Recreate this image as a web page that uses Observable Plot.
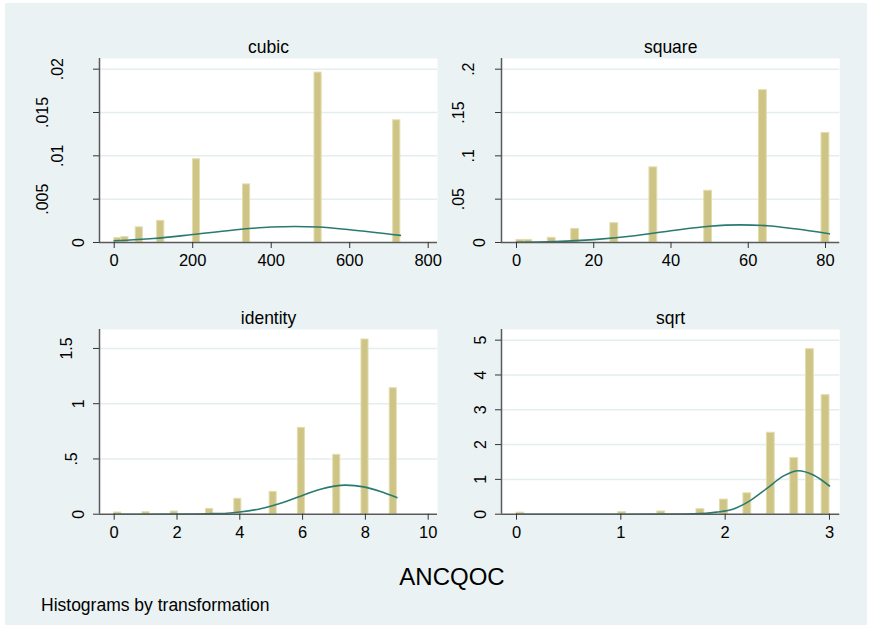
<!DOCTYPE html>
<html>
<head>
<meta charset="utf-8">
<script src="https://cdn.jsdelivr.net/npm/d3@7"></script>
<script src="https://cdn.jsdelivr.net/npm/@observablehq/plot@0.6"></script>
<style>
  body { margin: 0; background: #ffffff; font-family: "Liberation Sans", Arial, sans-serif; }
  #wrap { position: relative; width: 872px; height: 629px; overflow: hidden; background: #ffffff; }
  #bg { position: absolute; left: 5px; top: 3px; width: 862px; height: 622px; background: #eaf2f3; }
  .panel { position: absolute; }
  #xtitle { position: absolute; left: 352px; width: 200px; top: 562px; line-height: 30px; text-align: center; font-size: 24px; color: #000; }
  #note { position: absolute; left: 41px; top: 594px; line-height: 22px; font-size: 17.5px; color: #000; white-space: nowrap; }
</style>
</head>
<body>
<div id="wrap">
  <div id="bg"></div>
  <div id="xtitle">ANCQOC</div>
  <div id="note">Histograms by transformation</div>
</div>
<script>
// ---------- data ----------
const panelNames = ["cubic", "square", "identity", "sqrt"];

const cubicBinStart = [0, 18.2, 54.7, 109.4, 200.5, 328.1, 510.3, 710.8];
const cubicBinWidth = 18.2;
const cubicDensity  = [0.0005, 0.00062, 0.00175, 0.0025, 0.0096, 0.0067, 0.0196, 0.0141];
const cubicCurveX   = [0, 100, 200, 300, 400, 460, 520, 600, 729];
const cubicCurveY   = [0.0002, 0.00046, 0.00092, 0.00142, 0.00178, 0.00185, 0.00178, 0.00148, 0.00082];
const cubicXTicks   = [0, 200, 400, 600, 800];
const cubicYTicks   = [0, 0.005, 0.01, 0.015, 0.02];

const squareBinStart = [0, 2.025, 8.1, 14.175, 24.3, 34.425, 48.6, 62.775, 78.975];
const squareBinWidth = 2.025;
const squareDensity  = [0.003, 0.003, 0.0054, 0.0157, 0.0223, 0.0867, 0.0597, 0.1758, 0.1264];
const squareCurveX   = [0, 10, 20, 30, 40, 50, 58, 65, 72, 81];
const squareCurveY   = [0.0003, 0.0011, 0.0033, 0.0075, 0.0135, 0.0188, 0.0203, 0.0194, 0.0158, 0.0100];
const squareXTicks   = [0, 20, 40, 60, 80];
const squareYTicks   = [0, 0.05, 0.1, 0.15, 0.2];

const identityBinStart = [0, 0.9, 1.8, 2.925, 3.825, 4.95, 5.85, 6.975, 7.875, 8.775];
const identityBinWidth = 0.225;
const identityDensity  = [0.015, 0.018, 0.024, 0.048, 0.139, 0.202, 0.781, 0.537, 1.581, 1.14];
const identityCurveX   = [0, 1, 2, 3, 3.6, 4, 4.66, 5.3, 5.93, 6.57, 7.37, 7.95, 8.48, 9];
const identityCurveY   = [0, 0.0001, 0.0005, 0.004, 0.009, 0.02, 0.05, 0.1, 0.163, 0.226, 0.263, 0.247, 0.205, 0.15];
const identityXTicks   = [0, 2, 4, 6, 8, 10];
const identityYTicks   = [0, 0.5, 1, 1.5];

const sqrtBinStart = [0, 0.975, 1.35, 1.725, 1.95, 2.175, 2.4, 2.625, 2.775, 2.925];
const sqrtBinWidth = 0.075;
const sqrtDensity  = [0.045, 0.057, 0.077, 0.144, 0.42, 0.60, 2.34, 1.61, 4.74, 3.42];
const sqrtCurveX   = [0, 1, 1.5, 1.7, 1.92, 2.08, 2.24, 2.40, 2.56, 2.70, 2.85, 3.0];
const sqrtCurveY   = [0, 0.0001, 0.0013, 0.009, 0.06, 0.15, 0.39, 0.74, 1.10, 1.25, 1.12, 0.81];
const sqrtXTicks   = [0, 1, 2, 3];
const sqrtYTicks   = [0, 1, 2, 3, 4, 5];

// ---------- layout / style ----------
const layout = {
  cubic:    { left: 99,  right: 437,   top: 58,    bottom: 242, xDomain: [-37.5, 823.7],    yDomain: [0, 0.02123], yLabelDx: [-16, -52, -37, -52, -37], titleDy: -11.5 },
  square:   { left: 501, right: 839.3, top: 58,    bottom: 242, xDomain: [-3.88, 83.7],     yDomain: [0, 0.21235], yLabelDx: [-17, -38, -28, -38, -28], titleDy: -11.5 },
  identity: { left: 99,  right: 437,   top: 329.3, bottom: 514, xDomain: [-0.468, 10.296],  yDomain: [0, 1.6715],  yLabelDx: [-16, -23, -16, -28], titleDy: -11 },
  sqrt:     { left: 501, right: 839.3, top: 329.3, bottom: 514, xDomain: [-0.1438, 3.0988], yDomain: [0, 5.307],   yLabelDx: [-16, -16, -16, -16, -16, -16], titleDy: -11 }
};

const series = {
  cubic:    { binStart: cubicBinStart, binWidth: cubicBinWidth, density: cubicDensity, curveX: cubicCurveX, curveY: cubicCurveY, xTicks: cubicXTicks, yTicks: cubicYTicks },
  square:   { binStart: squareBinStart, binWidth: squareBinWidth, density: squareDensity, curveX: squareCurveX, curveY: squareCurveY, xTicks: squareXTicks, yTicks: squareYTicks },
  identity: { binStart: identityBinStart, binWidth: identityBinWidth, density: identityDensity, curveX: identityCurveX, curveY: identityCurveY, xTicks: identityXTicks, yTicks: identityYTicks },
  sqrt:     { binStart: sqrtBinStart, binWidth: sqrtBinWidth, density: sqrtDensity, curveX: sqrtCurveX, curveY: sqrtCurveY, xTicks: sqrtXTicks, yTicks: sqrtYTicks }
};

const fmt = d => d === 0 ? "0" : String(d).replace(/^0\./, ".");
const FONT = "'Liberation Sans', Arial, sans-serif";

function makePanel(name) {
  const s = series[name], L = layout[name];
  const bars = s.binStart.map((x0, i) => ({ x1: x0, x2: x0 + s.binWidth, y1: 0, y2: s.density[i] }));
  const curve = s.curveX.map((x, i) => ({ x, y: s.curveY[i] }));
  const ml = 75, mr = 25, mt = 30, mb = 40;
  const w = L.right - L.left, h = L.bottom - L.top;
  const chart = Plot.plot({
    width: w + ml + mr, height: h + mt + mb,
    marginLeft: ml, marginRight: mr, marginTop: mt, marginBottom: mb,
    style: { background: "transparent", fontFamily: FONT, overflow: "visible" },
    x: { domain: L.xDomain, axis: null },
    y: { domain: L.yDomain, axis: null },
    marks: [
      Plot.frame({ fill: "white", stroke: "none" }),
      Plot.ruleY(s.yTicks.filter(t => t > 0), { stroke: "#e4eef0", strokeWidth: 1.5 }),
      Plot.rect(bars, { x1: "x1", x2: "x2", y1: "y1", y2: "y2", fill: "#cdc486", stroke: "#e3ddae", strokeWidth: 1 }),
      Plot.line(curve, { x: "x", y: "y", stroke: "#2a7a70", strokeWidth: 1.6, curve: "monotone-x" }),
      Plot.ruleX([L.xDomain[0]], { y1: L.yDomain[0], y2: L.yDomain[1], stroke: "#5a5a5a", strokeWidth: 1.5 }),
      Plot.ruleY([L.yDomain[0]], { x1: L.xDomain[0], x2: L.xDomain[1], stroke: "#5a5a5a", strokeWidth: 1.5 }),
      Plot.axisX(s.xTicks, { tickSize: 6, tickPadding: 6, fontSize: 16.5, stroke: "#333", fill: "#000", tickFormat: fmt, label: null }),
      Plot.axisY(s.yTicks, { tickSize: 6, tickFormat: () => "", stroke: "#333", label: null }),
      ...s.yTicks.map((t, i) => Plot.text([t], {
        y: d => d, frameAnchor: "left", text: fmt, rotate: -90, dx: L.yLabelDx[i],
        textAnchor: "middle", lineAnchor: "bottom", fontSize: 16, fill: "#000"
      })),
      Plot.text([name], { frameAnchor: "top", text: d => d, dy: L.titleDy, lineAnchor: "middle", fontSize: 17.5, fill: "#000" })
    ]
  });
  chart.classList.add("panel");
  chart.style.left = (L.left - ml) + "px";
  chart.style.top = (L.top - mt) + "px";
  document.getElementById("wrap").appendChild(chart);
}

panelNames.forEach(makePanel);
</script>
</body>
</html>
